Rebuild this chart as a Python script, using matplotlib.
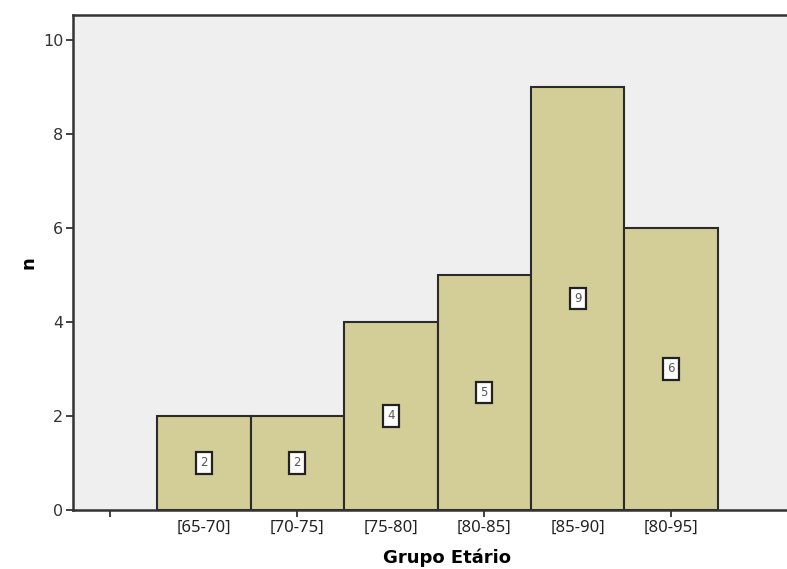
import matplotlib.pyplot as plt

# Age groups and counts
grupos = ["[65-70]", "[70-75]", "[75-80]", "[80-85]", "[85-90]", "[80-95]"]
contagens = [2, 2, 4, 5, 9, 6]
posicoes = [1, 2, 3, 4, 5, 6]

fig = plt.figure(figsize=(7.87, 5.69), dpi=100)
ax = fig.add_axes([0.0928, 0.1037, 0.95, 0.870])
ax.set_facecolor("#efefef")

ax.bar(posicoes, contagens, width=1.0, color="#d3ce97", edgecolor="#2b2b2b", linewidth=1.5)

# value labels in small white boxes at half height
for x, n in zip(posicoes, contagens):
    ax.text(x, n / 2, str(n), ha="center", va="center", fontsize=8.5, color="#555555",
            bbox=dict(boxstyle="square,pad=0.35", fc="white", ec="#222222", lw=1.6))

ax.set_xlim(-0.4, 7.6)
ax.set_ylim(0, 10.53)

ax.set_yticks([0, 2, 4, 6, 8, 10])
ax.tick_params(axis="y", direction="out", length=5, width=1.3, color="#333333",
               labelsize=11.5, labelcolor="#333333", pad=2)

# ticks every other bin, labels under every bar
ax.xaxis.remove_overlapping_locs = False
ax.set_xticks([0, 2, 4, 6])
ax.set_xticklabels([])
ax.set_xticks(posicoes, minor=True)
ax.set_xticklabels(grupos, minor=True, fontfamily="Noto Sans", fontsize=12, color="#222222")
ax.tick_params(axis="x", which="major", direction="out", length=5, width=1.3, color="#333333")
ax.tick_params(axis="x", which="minor", length=0, pad=7)

for s in ["left", "top", "bottom"]:
    ax.spines[s].set_linewidth(1.8)
    ax.spines[s].set_color("#333333")
ax.spines["right"].set_visible(False)

ax.set_xlabel("Grupo Etário", fontfamily="DejaVu Sans", fontweight="bold", fontsize=13, labelpad=9)
ax.set_ylabel("n", fontfamily="DejaVu Sans", fontweight="bold", fontsize=13, labelpad=4)

fig.savefig("out.png", dpi=100)
